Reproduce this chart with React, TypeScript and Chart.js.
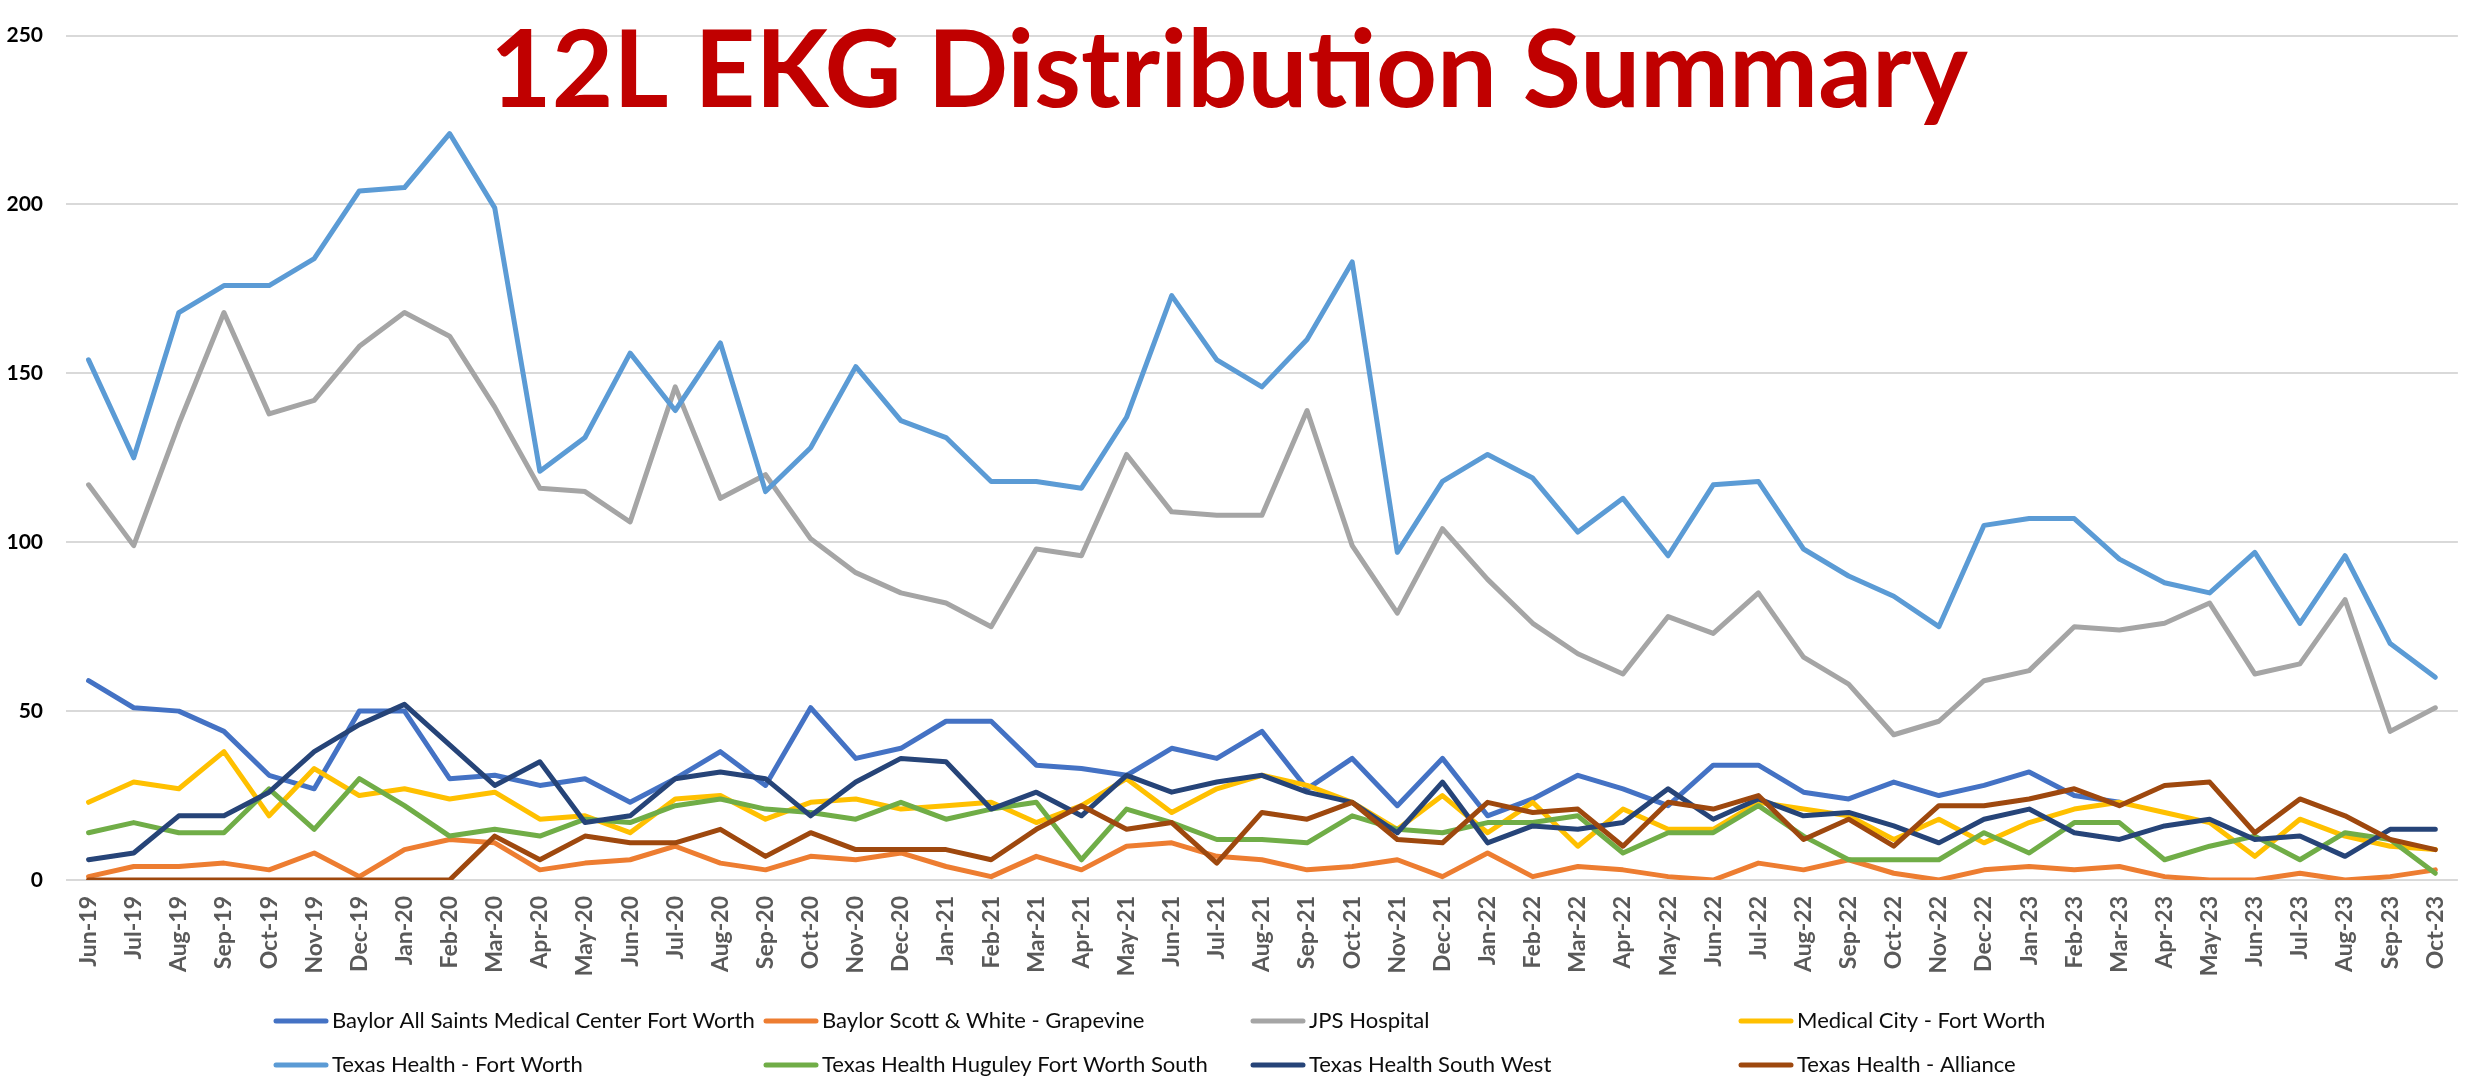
import React, { useEffect, useRef } from 'react';
import { Chart, registerables } from 'chart.js';

Chart.register(...registerables);

const categories = [
  'Jun-19', 'Jul-19', 'Aug-19', 'Sep-19', 'Oct-19', 'Nov-19', 'Dec-19',
  'Jan-20', 'Feb-20', 'Mar-20', 'Apr-20', 'May-20', 'Jun-20', 'Jul-20', 'Aug-20', 'Sep-20', 'Oct-20', 'Nov-20', 'Dec-20',
  'Jan-21', 'Feb-21', 'Mar-21', 'Apr-21', 'May-21', 'Jun-21', 'Jul-21', 'Aug-21', 'Sep-21', 'Oct-21', 'Nov-21', 'Dec-21',
  'Jan-22', 'Feb-22', 'Mar-22', 'Apr-22', 'May-22', 'Jun-22', 'Jul-22', 'Aug-22', 'Sep-22', 'Oct-22', 'Nov-22', 'Dec-22',
  'Jan-23', 'Feb-23', 'Mar-23', 'Apr-23', 'May-23', 'Jun-23', 'Jul-23', 'Aug-23', 'Sep-23', 'Oct-23',
];

const baylorAllSaints = [
  59, 51, 50, 44, 31, 27, 50, 50, 30, 31, 28, 30, 23,
  30, 38, 28, 51, 36, 39, 47, 47, 34, 33, 31, 39, 36,
  44, 27, 36, 22, 36, 19, 24, 31, 27, 22, 34, 34, 26,
  24, 29, 25, 28, 32, 25, 23, null, null, null, null, null, null, null,
];

const baylorGrapevine = [
  1, 4, 4, 5, 3, 8, 1, 9, 12, 11, 3, 5, 6,
  10, 5, 3, 7, 6, 8, 4, 1, 7, 3, 10, 11, 7,
  6, 3, 4, 6, 1, 8, 1, 4, 3, 1, 0, 5, 3,
  6, 2, 0, 3, 4, 3, 4, 1, 0, 0, 2, 0, 1, 3,
];

const jpsHospital = [
  117, 99, 135, 168, 138, 142, 158, 168, 161, 140, 116, 115, 106,
  146, 113, 120, 101, 91, 85, 82, 75, 98, 96, 126, 109, 108,
  108, 139, 99, 79, 104, 89, 76, 67, 61, 78, 73, 85, 66,
  58, 43, 47, 59, 62, 75, 74, 76, 82, 61, 64, 83, 44, 51,
];

const medicalCity = [
  23, 29, 27, 38, 19, 33, 25, 27, 24, 26, 18, 19, 14,
  24, 25, 18, 23, 24, 21, 22, 23, 17, 22, 30, 20, 27,
  31, 28, 23, 15, 25, 14, 23, 10, 21, 15, 15, 23, 21,
  19, 12, 18, 11, 17, 21, 23, 20, 17, 7, 18, 13, 10, 9,
];

const texasHealthFortWorth = [
  154, 125, 168, 176, 176, 184, 204, 205, 221, 199, 121, 131, 156,
  139, 159, 115, 128, 152, 136, 131, 118, 118, 116, 137, 173, 154,
  146, 160, 183, 97, 118, 126, 119, 103, 113, 96, 117, 118, 98,
  90, 84, 75, 105, 107, 107, 95, 88, 85, 97, 76, 96, 70, 60,
];

const huguley = [
  14, 17, 14, 14, 27, 15, 30, 22, 13, 15, 13, 18, 17,
  22, 24, 21, 20, 18, 23, 18, 21, 23, 6, 21, 17, 12,
  12, 11, 19, 15, 14, 17, 17, 19, 8, 14, 14, 22, 13,
  6, 6, 6, 14, 8, 17, 17, 6, 10, 13, 6, 14, 12, 2,
];

const southWest = [
  6, 8, 19, 19, 26, 38, 46, 52, 40, 28, 35, 17, 19,
  30, 32, 30, 19, 29, 36, 35, 21, 26, 19, 31, 26, 29,
  31, 26, 23, 14, 29, 11, 16, 15, 17, 27, 18, 24, 19,
  20, 16, 11, 18, 21, 14, 12, 16, 18, 12, 13, 7, 15, 15,
];

const alliance = [
  0, 0, 0, 0, 0, 0, 0, 0, 0, 13, 6, 13, 11,
  11, 15, 7, 14, 9, 9, 9, 6, 15, 22, 15, 17, 5,
  20, 18, 23, 12, 11, 23, 20, 21, 10, 23, 21, 25, 12,
  18, 10, 22, 22, 24, 27, 22, 28, 29, 14, 24, 19, 12, 9,
];

const seriesNames = [
  'Baylor All Saints Medical Center Fort Worth',
  'Baylor Scott & White - Grapevine',
  'JPS Hospital',
  'Medical City - Fort Worth',
  'Texas Health - Fort Worth',
  'Texas Health Huguley Fort Worth South',
  'Texas Health South West',
  'Texas Health - Alliance',
];

const seriesValues = [
  baylorAllSaints, baylorGrapevine, jpsHospital, medicalCity,
  texasHealthFortWorth, huguley, southWest, alliance,
];

const seriesColors = [
  '#4472C4', '#ED7D31', '#A5A5A5', '#FFC000',
  '#5B9BD5', '#70AD47', '#264478', '#9E480E',
];

const titleText = '12L EKG Distribution Summary';
const yMin = 0;
const yMax = 250;
const yStep = 50;

export default function App() {
  const canvasRef = useRef<HTMLCanvasElement | null>(null);

  useEffect(() => {
    document.body.style.margin = '0';
    const canvas = canvasRef.current;
    if (!canvas) return;
    const ctx = canvas.getContext('2d');
    if (!ctx) return;

    const titlePlugin = {
      id: 'titleOverlay',
      afterDatasetsDraw(chart: any) {
        const c = chart.ctx;
        c.save();
        c.font = 'bold 100px Lato';
        const w = c.measureText(titleText).width;
        const size = (100 * 1478) / w;
        c.font = `bold ${size}px Lato`;
        c.fillStyle = '#C00000';
        c.textAlign = 'left';
        c.textBaseline = 'alphabetic';
        c.fillText(titleText, 490, 107);
        c.restore();
      },
    };

    const legendPlugin = {
      id: 'gridLegend',
      afterDraw(chart: any) {
        const c = chart.ctx;
        c.save();
        c.font = '22px Lato';
        const w = c.measureText(seriesNames[0]).width;
        const size = (22 * 423) / w;
        c.font = `${size}px Lato`;
        c.textAlign = 'left';
        c.textBaseline = 'middle';
        const colX = [273, 763, 1250, 1738];
        const rowY = [1021, 1065];
        seriesNames.forEach((name, i) => {
          const x = colX[i % 4];
          const y = rowY[Math.floor(i / 4)];
          c.strokeStyle = seriesColors[i];
          c.lineWidth = 5;
          c.lineCap = 'round';
          c.beginPath();
          c.moveTo(x + 3, y);
          c.lineTo(x + 53, y);
          c.stroke();
          c.fillStyle = '#0D0D0D';
          c.fillText(name, x + 59, y);
        });
        c.restore();
      },
    };

    const chart = new Chart(ctx, {
      type: 'line',
      data: {
        labels: categories,
        datasets: seriesNames.map((name, i) => ({
          label: name,
          data: seriesValues[i],
          borderColor: seriesColors[i],
          backgroundColor: seriesColors[i],
          borderWidth: 5,
          pointRadius: 0,
          pointHoverRadius: 0,
          tension: 0,
          fill: false,
          spanGaps: false,
          borderJoinStyle: 'round' as const,
          borderCapStyle: 'round' as const,
          order: seriesNames.length - i,
        })),
      },
      options: {
        responsive: false,
        animation: false,
        layout: { padding: { top: 16, right: 9, left: 0, bottom: 0 } },
        plugins: {
          legend: { display: false },
          title: { display: false },
          tooltip: { enabled: false },
        },
        scales: {
          x: {
            offset: true,
            grid: { display: false, drawTicks: false },
            border: { display: false },
            ticks: {
              autoSkip: false,
              minRotation: 90,
              maxRotation: 90,
              padding: 16,
              color: '#595959',
              font: { family: 'Lato', weight: 'bold', size: 23 },
            },
            afterFit(scale: any) {
              scale.height = 201;
            },
          },
          y: {
            min: yMin,
            max: yMax,
            grid: { color: '#D9D9D9', lineWidth: 2, drawTicks: false },
            border: { display: false },
            ticks: {
              stepSize: yStep,
              padding: 23,
              color: '#000000',
              font: { family: 'Lato', weight: 'bold', size: 21 },
            },
            afterFit(scale: any) {
              scale.width = 66;
            },
          },
        },
      },
      plugins: [titlePlugin, legendPlugin],
    });

    return () => {
      chart.destroy();
    };
  }, []);

  return (
    <div style={{ width: 2479, height: 1081, background: '#ffffff' }}>
      <canvas ref={canvasRef} width={2479} height={1081} style={{ display: 'block' }} />
    </div>
  );
}
